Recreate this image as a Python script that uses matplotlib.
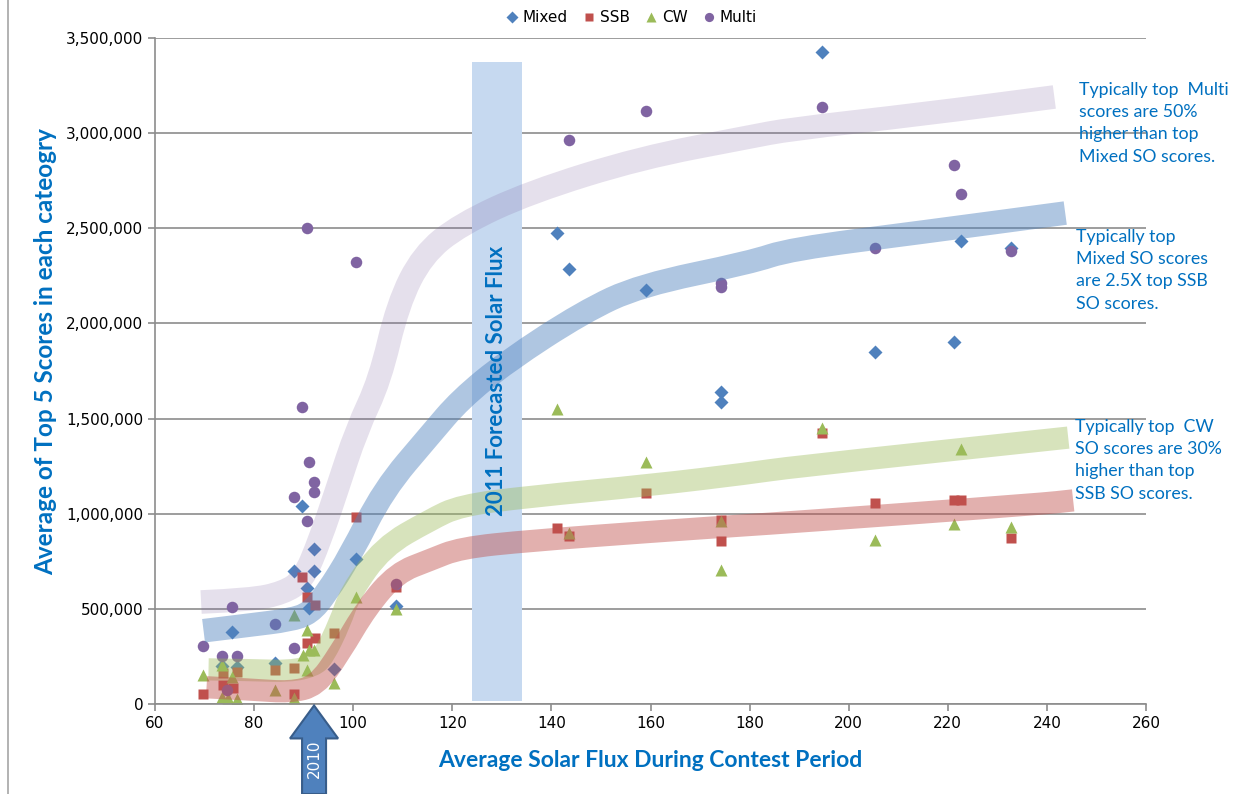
import matplotlib
matplotlib.use("Agg")
import matplotlib.pyplot as plt
from matplotlib.path import Path
from matplotlib.patches import PathPatch, Rectangle, FancyArrow
from matplotlib.lines import Line2D
from matplotlib.ticker import FuncFormatter

# --- scatter data (solar flux, average of top 5 scores) ---
mixed_x = [73.6, 75.6, 76.6, 84.2, 88.1, 89.6, 90.6, 91.0, 92.1, 92.1, 96.1, 100.6, 108.6,
           141.2, 143.6, 159.1, 174.2, 174.2, 194.7, 205.3, 221.3, 222.7, 232.7]
mixed_y = [200000, 377000, 195000, 215000, 699000, 1041000, 608000, 503000, 817000, 699000,
           182000, 761000, 517000, 2475000, 2287000, 2177000, 1642000, 1586000, 3424000,
           1849000, 1903000, 2434000, 2396000]

ssb_x = [69.6, 73.8, 73.8, 75.8, 76.6, 84.2, 88.1, 88.1, 89.6, 90.6, 90.6, 92.2, 92.2, 96.1,
         100.6, 108.6, 141.2, 143.6, 159.1, 174.2, 174.2, 194.7, 205.3, 221.2, 222.7, 232.7]
ssb_y = [53000, 161000, 100000, 83000, 170000, 179000, 188000, 51000, 668000, 560000, 319000,
         520000, 345000, 372000, 985000, 617000, 924000, 885000, 1111000, 967000, 857000,
         1423000, 1055000, 1073000, 1073000, 871000]

cw_x = [69.6, 73.6, 73.6, 74.8, 75.6, 76.6, 84.2, 88.1, 88.1, 89.8, 90.6, 90.6, 91.0, 92.1,
        96.1, 100.6, 108.6, 141.2, 143.6, 159.1, 174.2, 174.2, 194.7, 205.3, 221.3, 222.7, 232.7]
cw_y = [152000, 205000, 39000, 30000, 144000, 27000, 74000, 468000, 30000, 258000, 389000,
        179000, 284000, 284000, 112000, 564000, 498000, 1549000, 900000, 1274000, 960000,
        704000, 1449000, 862000, 946000, 1341000, 932000]

multi_x = [69.6, 73.6, 74.6, 75.6, 76.6, 84.2, 88.1, 88.1, 89.6, 90.6, 90.6, 91.1, 92.1, 92.1,
           100.6, 108.6, 143.6, 159.1, 174.2, 174.2, 194.7, 205.3, 221.3, 222.7, 232.7]
multi_y = [307000, 254000, 74000, 512000, 254000, 419000, 293000, 1087000, 1563000, 964000,
           2502000, 1271000, 1169000, 1113000, 2324000, 631000, 2962000, 3114000, 2212000,
           2192000, 3135000, 2396000, 2834000, 2681000, 2380000]

# --- hand drawn trend bands ---
multi_band_x = [69.3, 79.2, 85.9, 89.9, 93.3, 96.7, 100.7, 105.4, 109.0, 114.0, 121.6, 135.7,
                158.0, 180.0, 188.0, 215.0, 241.5]
multi_band_y = [536000, 547000, 584000, 652000, 862000, 1125000, 1441000, 1703000, 2100000,
                2360000, 2520000, 2690000, 2870000, 2980000, 3020000, 3100000, 3190000]

mixed_band_x = [69.8, 79.2, 87.2, 91.3, 94.6, 99.4, 106.1, 115.5, 121.6, 131.0, 146.4, 157.9,
                180.1, 188.2, 215.0, 243.7]
mixed_band_y = [385000, 415000, 441000, 477000, 582000, 780000, 1125000, 1414000, 1600000,
                1800000, 2060000, 2200000, 2320000, 2390000, 2480000, 2580000]

cw_band_x = [70.8, 80.0, 87.2, 92.0, 94.0, 97.3, 99.4, 106.0, 115.5, 121.6, 135.7, 160.0,
             180.1, 188.2, 238.6, 244.3]
cw_band_y = [182000, 178000, 172000, 200000, 249000, 425000, 584000, 825000, 967000, 1043000,
             1090000, 1150000, 1213000, 1244000, 1384000, 1400000]

ssb_band_x = [70.4, 80.0, 87.2, 92.6, 97.3, 102.8, 108.8, 115.5, 121.6, 135.7, 160.0, 180.1,
              188.2, 238.6, 245.3]
ssb_band_y = [88000, 75000, 62000, 95000, 268000, 510000, 689000, 757000, 820000, 858000,
              905000, 941000, 955000, 1051000, 1070000]

FORECAST_X = (124.0, 134.1)
FORECAST_Y = (16000, 3375000)
ARROW_X = 92.1

BLUE, RED, GREEN, PURPLE = '#4f81bd', '#c0504d', '#9bbb59', '#8064a2'
TXT_BLUE = '#0070c0'


def smooth_band(ax, xs, ys, color, alpha, lw=16):
    # quadratic bezier through the midpoints, so the band comes out smooth
    verts = [(xs[0], ys[0])]
    codes = [Path.MOVETO]
    for i in range(1, len(xs) - 1):
        verts.append((xs[i], ys[i]))
        verts.append(((xs[i] + xs[i + 1]) / 2.0, (ys[i] + ys[i + 1]) / 2.0))
        codes += [Path.CURVE3, Path.CURVE3]
    verts.append((xs[-1], ys[-1]))
    codes.append(Path.LINETO)
    patch = PathPatch(Path(verts, codes), fill=False, edgecolor=color, alpha=alpha, lw=lw,
                      capstyle='butt', joinstyle='round', zorder=3)
    ax.add_patch(patch)


fig = plt.figure(figsize=(12.48, 7.94), dpi=100)
ax = fig.add_axes([155 / 1248, 90 / 794, 991 / 1248, 666 / 794])

ax.set_xlim(60, 260)
ax.set_ylim(0, 3500000)
ax.set_xticks(range(60, 261, 20))
ax.set_yticks(range(0, 3500001, 500000))
ax.yaxis.set_major_formatter(FuncFormatter(lambda v, p: f'{int(v):,}'))
ax.tick_params(axis='both', labelsize=11, colors='#8c8c8c', labelcolor='black',
               direction='out', length=5, width=1.2)
ax.yaxis.grid(True, color='#8c8c8c', lw=1.2, zorder=0)
ax.set_axisbelow(True)
for side in ['top', 'right']:
    ax.spines[side].set_visible(False)
for side in ['left', 'bottom']:
    ax.spines[side].set_color('#8c8c8c')
    ax.spines[side].set_linewidth(1.2)

# forecast bar
ax.add_patch(Rectangle((FORECAST_X[0], FORECAST_Y[0]), FORECAST_X[1] - FORECAST_X[0],
                       FORECAST_Y[1] - FORECAST_Y[0], facecolor='#c6d9f0', edgecolor='none',
                       zorder=1.5))
ax.text(sum(FORECAST_X) / 2 - 0.2, 1700000, '2011 Forecasted Solar Flux', rotation=90,
        ha='center', va='center', color=TXT_BLUE, fontsize=16, fontweight='bold',
        family=['Lato', 'DejaVu Sans'], zorder=5)

# scatter series
ax.plot(mixed_x, mixed_y, 'D', color=BLUE, ms=7.2, mec='none', label='Mixed', zorder=2)
ax.plot(ssb_x, ssb_y, 's', color=RED, ms=7.5, mec='none', label='SSB', zorder=2)
ax.plot(cw_x, cw_y, '^', color=GREEN, ms=8.5, mec='none', label='CW', zorder=2)
ax.plot(multi_x, multi_y, 'o', color=PURPLE, ms=8.3, mec='none', label='Multi', zorder=2)

# trend bands on top of the points
smooth_band(ax, multi_band_x, multi_band_y, PURPLE, 0.2, lw=17)
smooth_band(ax, mixed_band_x, mixed_band_y, BLUE, 0.45, lw=17)
smooth_band(ax, cw_band_x, cw_band_y, GREEN, 0.4)
smooth_band(ax, ssb_band_x, ssb_band_y, RED, 0.45)

# 2010 arrow below the axis
arrow = FancyArrow(ARROW_X, -473000, 0, 465000, width=4.84, head_width=9.7,
                   head_length=173000, length_includes_head=True, facecolor=BLUE,
                   edgecolor='#385d8a', lw=1.5, clip_on=False, zorder=6)
ax.add_patch(arrow)
ax.text(ARROW_X, -290000, '2010', rotation=90, ha='center', va='center', color='white',
        fontsize=11, clip_on=False, zorder=7)

label_font = ['Lato', 'DejaVu Sans']
ax.set_xlabel('Average Solar Flux During Contest Period', fontsize=16.5, fontweight='bold',
              color=TXT_BLUE, family=label_font)
ax.xaxis.set_label_coords((650 - 155) / 991, -(750 - 704) / 666)
ax.set_ylabel('Average of Top 5 Scores in each cateogry', fontsize=17.5, fontweight='bold',
              color=TXT_BLUE, family=label_font)
ax.yaxis.set_label_coords(-(155 - 57) / 991, (704 - 352) / 666)

fig.legend(loc='center', bbox_to_anchor=(630 / 1248, 1 - 18 / 794), ncol=4, frameon=False,
           fontsize=11, handletextpad=0.1, columnspacing=0.8, markerscale=0.8,
           handlelength=1.2)

notes = [
    (1079, 82, 'Typically top  Multi\nscores are 50%\nhigher than top\nMixed SO scores.'),
    (1076, 229, 'Typically top\nMixed SO scores\nare 2.5X top SSB\nSO scores.'),
    (1075, 419, 'Typically top  CW\nSO scores are 30%\nhigher than top\nSSB SO scores.'),
]
for px, py, txt in notes:
    fig.text(px / 1248, 1 - py / 794, txt, ha='left', va='top', fontsize=12.8,
             color=TXT_BLUE, family=['Lato', 'DejaVu Sans'], linespacing=1.48)

# chart area border on the left
fig.add_artist(Line2D([8 / 1248, 8 / 1248], [0, 1], color='#a6a6a6', lw=1.2))

fig.savefig('out.png', dpi=100)
